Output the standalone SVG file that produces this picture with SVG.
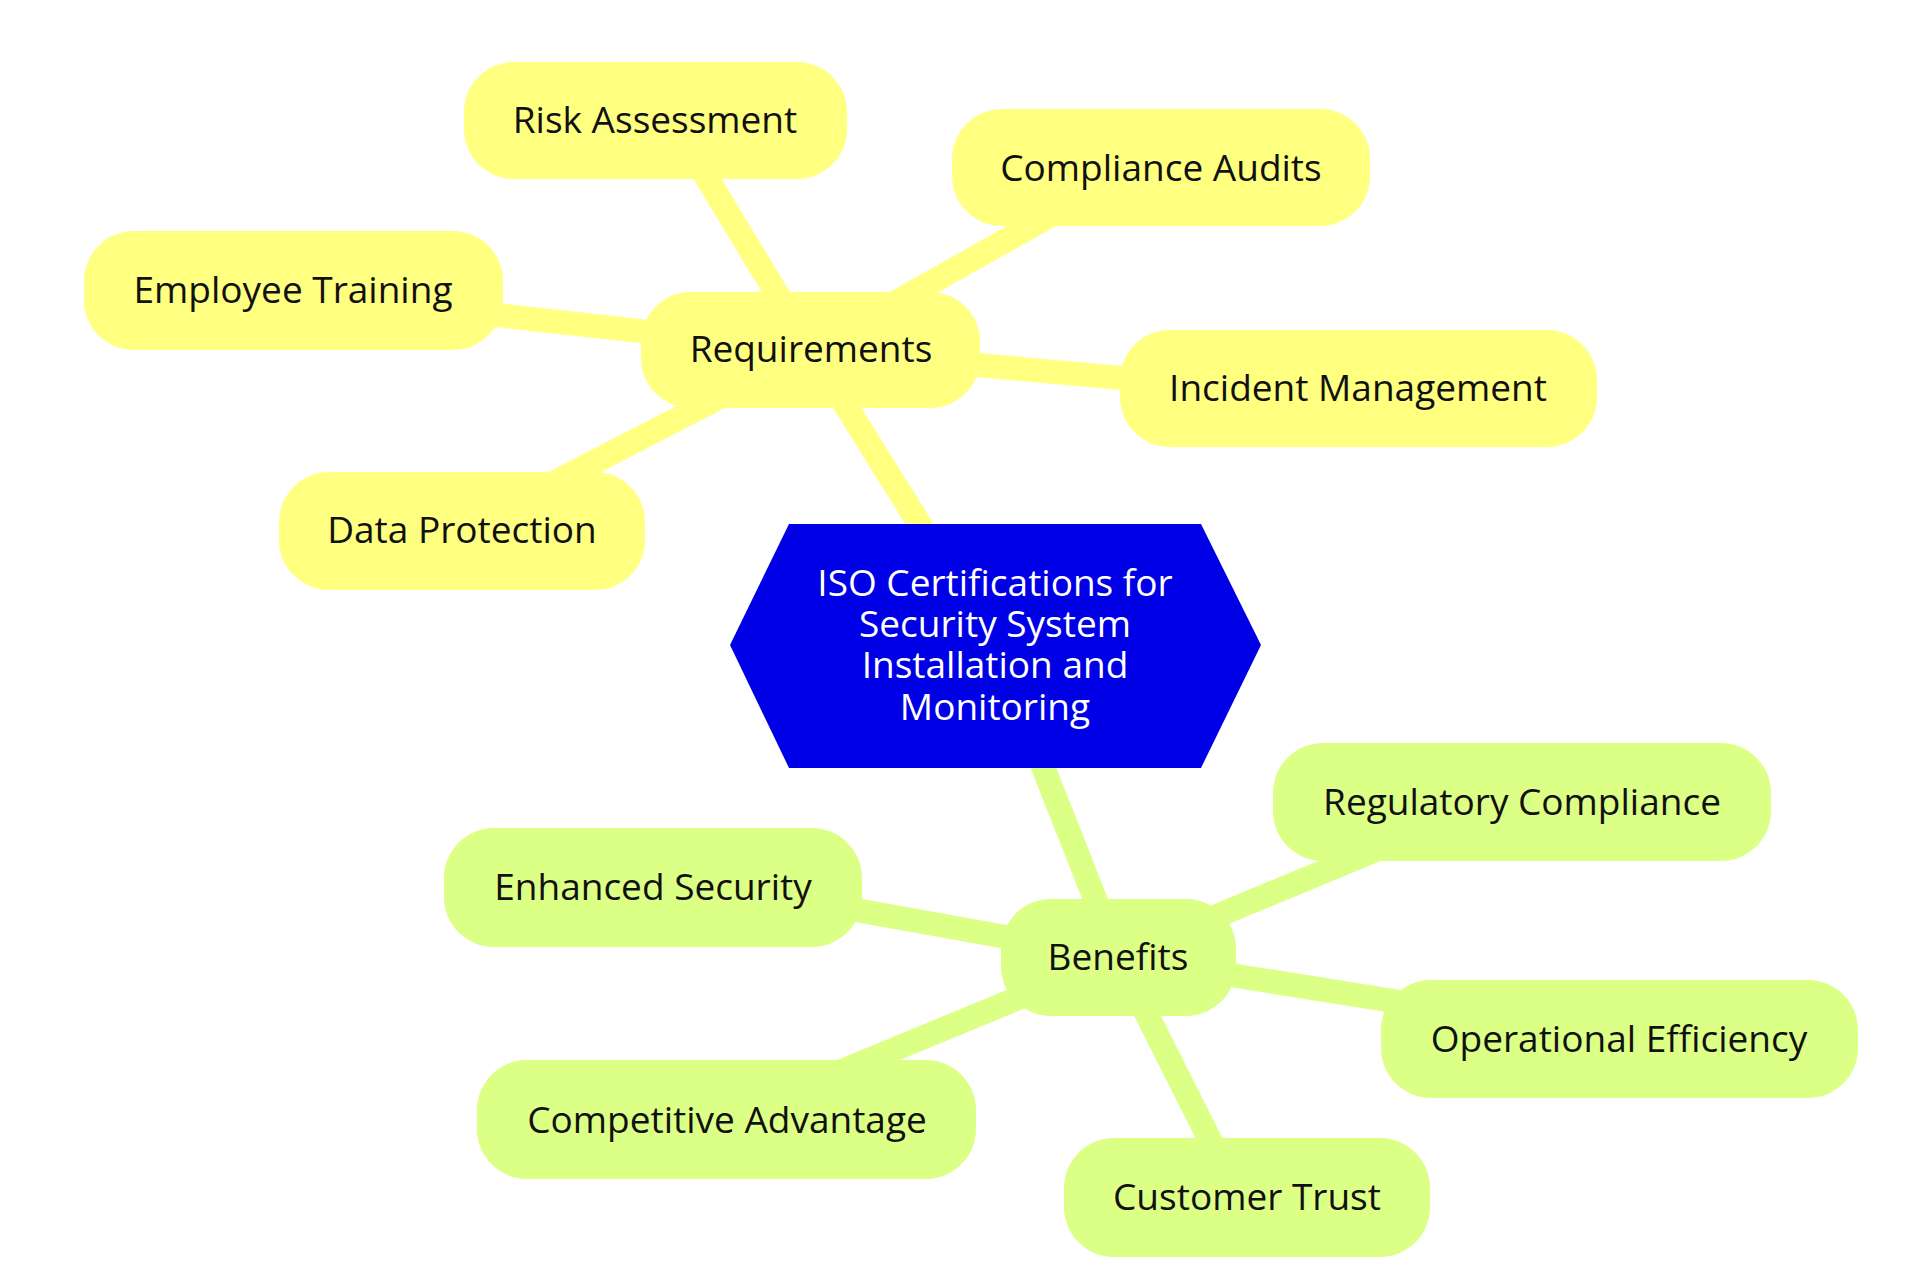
<svg xmlns="http://www.w3.org/2000/svg" width="1928" height="1277" viewBox="0 0 1928 1277">
<style>
.y{fill:#ffff80}.g{fill:#dcff85}
.ey{stroke:#ffff80;stroke-width:24;fill:none}.eg{stroke:#dcff85;stroke-width:24;fill:none}
text{font-family:"Open Sans","Noto Sans",sans-serif;font-size:37px;fill:#111;text-anchor:middle;dominant-baseline:central}
.c{fill:#fff}
</style>
<rect width="1928" height="1277" fill="#fff"/>
<g id="connectors">
<line class="ey" x1="811" y1="350" x2="995" y2="645"/>
<line class="ey" x1="811" y1="350" x2="690" y2="150"/>
<line class="ey" x1="811" y1="350" x2="1060" y2="210"/>
<line class="ey" x1="811" y1="350" x2="450" y2="310"/>
<line class="ey" x1="811" y1="350" x2="1200" y2="385"/>
<line class="ey" x1="811" y1="350" x2="540" y2="490"/>
<line class="eg" x1="995" y1="645" x2="1118" y2="957"/>
<line class="eg" x1="1118" y1="957" x2="1400" y2="840"/>
<line class="eg" x1="1118" y1="957" x2="800" y2="900"/>
<line class="eg" x1="1118" y1="957" x2="1450" y2="1010"/>
<line class="eg" x1="1118" y1="957" x2="820" y2="1080"/>
<line class="eg" x1="1118" y1="957" x2="1220" y2="1160"/>
</g>
<g id="root"><polygon points="730,645 789,524 1201,524 1261,645 1201,768 789,768" fill="#0000e6"/>
<text class="c" x="995" y="581">ISO Certifications for</text><text class="c" x="995" y="622">Security System</text><text class="c" x="995" y="663">Installation and</text><text class="c" x="995" y="705">Monitoring</text></g>
<g id="requirements"><rect class="y" x="641" y="292" width="339" height="116" rx="50"/><text x="811" y="347">Requirements</text></g>
<g id="risk"><rect class="y" x="464" y="62" width="383" height="117" rx="50"/><text x="655" y="118">Risk Assessment</text></g>
<g id="audits"><rect class="y" x="952" y="109" width="418" height="117" rx="50"/><text x="1161" y="166">Compliance Audits</text></g>
<g id="training"><rect class="y" x="84" y="231" width="419" height="119" rx="50"/><text x="293" y="288">Employee Training</text></g>
<g id="incident"><rect class="y" x="1120" y="330" width="477" height="117" rx="50"/><text x="1358" y="386">Incident Management</text></g>
<g id="dataprot"><rect class="y" x="279" y="472" width="366" height="118" rx="50"/><text x="462" y="528">Data Protection</text></g>
<g id="benefits"><rect class="g" x="1001" y="899" width="235" height="117" rx="50"/><text x="1118" y="955">Benefits</text></g>
<g id="regulatory"><rect class="g" x="1273" y="743" width="498" height="118" rx="50"/><text x="1522" y="800">Regulatory Compliance</text></g>
<g id="enhanced"><rect class="g" x="444" y="828" width="418" height="119" rx="50"/><text x="653" y="885">Enhanced Security</text></g>
<g id="operational"><rect class="g" x="1381" y="980" width="477" height="118" rx="50"/><text x="1619" y="1037">Operational Efficiency</text></g>
<g id="competitive"><rect class="g" x="477" y="1060" width="499" height="119" rx="50"/><text x="727" y="1118">Competitive Advantage</text></g>
<g id="trust"><rect class="g" x="1064" y="1138" width="366" height="119" rx="50"/><text x="1247" y="1195">Customer Trust</text></g>
</svg>
